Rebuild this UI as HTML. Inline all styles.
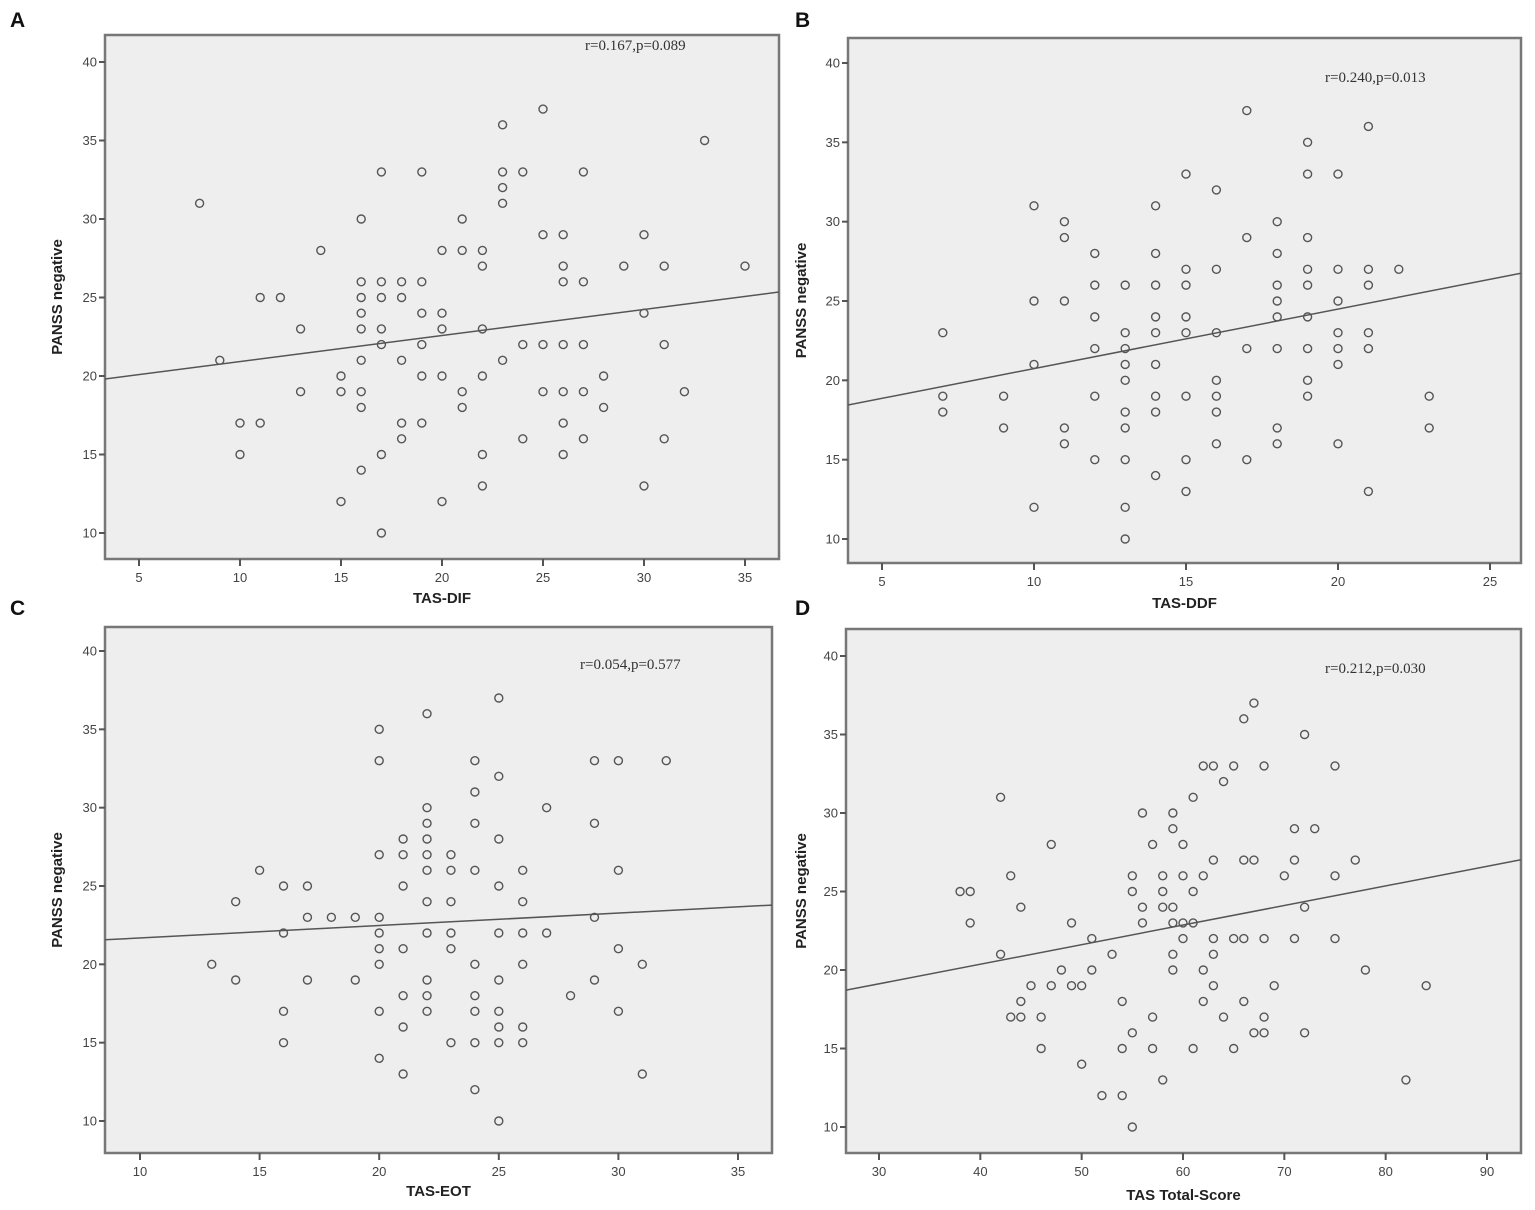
<!DOCTYPE html>
<html><head><meta charset="utf-8"><style>
body{margin:0;background:#fff;}
svg{display:block;font-family:"Liberation Sans",sans-serif;}
</style></head><body>
<svg id="chart" width="1535" height="1210" viewBox="0 0 1535 1210" xmlns="http://www.w3.org/2000/svg"></svg>
<script>
// ---- data ----
const aX=[8,9,10,10,11,11,12,13,13,14,15,15,15,16,16,16,16,16,16,16,16,16,17,17,17,17,17,17,17,18,18,18,18,18,19,19,19,19,19,19,20,20,20,20,20,21,21,21,21,22,22,22,22,22,22,23,23,23,23,23,24,24,24,25,25,25,25,26,26,26,26,26,26,26,27,27,27,27,27,28,28,29,30,30,30,31,31,31,32,33,35];
const aY=[31,21,17,15,25,17,25,23,19,28,20,19,12,30,26,25,24,23,21,19,18,14,33,26,25,23,22,15,10,26,25,21,17,16,33,26,24,22,20,17,28,24,23,20,12,30,28,19,18,28,27,23,20,15,13,36,33,32,31,21,33,22,16,37,29,22,19,29,27,26,22,19,17,15,33,26,22,19,16,20,18,27,29,24,13,27,22,16,19,35,27];
const bX=[7,7,7,9,9,10,10,10,10,11,11,11,11,11,12,12,12,12,12,12,13,13,13,13,13,13,13,13,13,13,14,14,14,14,14,14,14,14,14,15,15,15,15,15,15,15,15,16,16,16,16,16,16,16,17,17,17,17,18,18,18,18,18,18,18,18,19,19,19,19,19,19,19,19,19,20,20,20,20,20,20,20,21,21,21,21,21,21,22,23,23];
const bY=[23,19,18,19,17,31,25,21,12,30,29,25,17,16,28,26,24,22,19,15,26,23,22,21,20,18,17,15,12,10,31,28,26,24,23,21,19,18,14,33,27,26,24,23,19,15,13,32,27,23,20,19,18,16,37,29,22,15,30,28,26,25,24,22,17,16,35,33,29,27,26,24,22,20,19,33,27,25,23,22,21,16,36,27,26,23,22,13,27,19,17];
const cX=[13,14,14,15,16,16,16,16,17,17,17,18,19,19,20,20,20,20,20,20,20,20,20,21,21,21,21,21,21,21,22,22,22,22,22,22,22,22,22,22,22,23,23,23,23,23,23,24,24,24,24,24,24,24,24,24,25,25,25,25,25,25,25,25,25,25,26,26,26,26,26,26,27,27,28,29,29,29,29,30,30,30,30,31,31,32];
const cY=[20,24,19,26,25,22,17,15,25,23,19,23,23,19,35,33,27,23,22,21,20,17,14,28,27,25,21,18,16,13,36,30,29,28,27,26,24,22,19,18,17,27,26,24,22,21,15,33,31,29,26,20,18,17,15,12,37,32,28,25,22,19,17,16,15,10,26,24,22,20,16,15,30,22,18,33,29,23,19,33,26,21,17,20,13,33];
const dX=[38,39,39,42,42,43,43,44,44,44,45,46,46,47,47,48,49,49,50,50,51,51,52,53,54,54,54,55,55,55,55,56,56,56,57,57,57,58,58,58,58,59,59,59,59,59,59,60,60,60,60,61,61,61,61,62,62,62,62,63,63,63,63,63,64,64,65,65,65,66,66,66,66,67,67,67,68,68,68,68,69,70,71,71,71,72,72,72,73,75,75,75,77,78,82,84];
const dY=[25,25,23,31,21,26,17,24,18,17,19,17,15,28,19,20,23,19,19,14,22,20,12,21,18,15,12,26,25,16,10,30,24,23,28,17,15,26,25,24,13,30,29,24,23,21,20,28,26,23,22,31,25,23,15,33,26,20,18,33,27,22,21,19,32,17,33,22,15,36,27,22,18,37,27,16,33,22,17,16,19,26,29,27,22,35,24,16,29,33,26,22,27,20,13,19];
const lineIntercept=[19.26,16.99,20.89,15.38];
const lineSlope=[0.166,0.375,0.0794,0.1247];
const statLabels=["r=0.167,p=0.089","r=0.240,p=0.013","r=0.054,p=0.577","r=0.212,p=0.030"];
const xTitles=["TAS-DIF","TAS-DDF","TAS-EOT","TAS Total-Score"];
const xTicksA=[5,10,15,20,25,30,35];
const xTicksB=[5,10,15,20,25];
const xTicksC=[10,15,20,25,30,35];
const xTicksD=[30,40,50,60,70,80,90];
const yTicks=[10,15,20,25,30,35,40];
const panelLetters=["A","B","C","D"];

// ---- layout ----
const panels=[
 {x0:105,y0:35,x1:779,y1:559,xa:[5,139],xb:[35,745],ya:[40,62],yb:[10,533],xs:aX,ys:aY,xt:xTicksA,stat:[585,50],yt:62,xt2:603,letter:[10,27]},
 {x0:848,y0:38,x1:1521,y1:563,xa:[5,882],xb:[25,1490],ya:[40,63],yb:[10,539],xs:bX,ys:bY,xt:xTicksB,stat:[1325,82],yt:806,xt2:608,letter:[795,27]},
 {x0:105,y0:627,x1:772,y1:1153,xa:[10,140],xb:[35,738],ya:[40,651],yb:[10,1121],xs:cX,ys:cY,xt:xTicksC,stat:[580,669],yt:62,xt2:1196,letter:[10,615]},
 {x0:846,y0:629,x1:1521,y1:1153,xa:[30,879],xb:[90,1487],ya:[40,656],yb:[10,1127],xs:dX,ys:dY,xt:xTicksD,stat:[1325,673],yt:806,xt2:1200,letter:[795,615]}
];
const NS="http://www.w3.org/2000/svg";
const svg=document.getElementById('chart');
function mk(tag,attrs,parent){const e=document.createElementNS(NS,tag);for(const k in attrs)e.setAttribute(k,attrs[k]);(parent||svg).appendChild(e);return e;}

panels.forEach((p,i)=>{
 const sx=v=>p.xa[1]+(v-p.xa[0])*(p.xb[1]-p.xa[1])/(p.xb[0]-p.xa[0]);
 const sy=v=>p.ya[1]+(v-p.ya[0])*(p.yb[1]-p.ya[1])/(p.yb[0]-p.ya[0]);
 const g=mk('g',{});
 
 
 const lt=mk('text',{x:p.letter[0],y:p.letter[1],'font-size':21,'font-weight':'bold',fill:'#111'},g);
 lt.textContent=panelLetters[i];
 
 
 const fr=mk('rect',{x:p.x0,y:p.y0,width:p.x1-p.x0,height:p.y1-p.y0,fill:'#eeeeee',stroke:'#777',"stroke-width":2.5},g);
 
 
 const cid='clip'+i;
 const cp=mk('clipPath',{id:cid},g);mk('rect',{x:p.x0,y:p.y0,width:p.x1-p.x0,height:p.y1-p.y0},cp);
 // y ticks
 yTicks.forEach(t=>{
  const y=sy(t);
  mk('line',{x1:p.x0-6,x2:p.x0,y1:y,y2:y,stroke:'#555','stroke-width':2},g);
  const tx=mk('text',{x:p.x0-8,y:y+4.5,'font-size':13,'text-anchor':'end',fill:'#444'},g);
  tx.textContent=t;
  
  
 });
 p.xt.forEach(t=>{
  const x=sx(t);
  mk('line',{x1:x,x2:x,y1:p.y1,y2:p.y1+7,stroke:'#555','stroke-width':2},g);
  const tx=mk('text',{x:x,y:p.y1+23,'font-size':13,'text-anchor':'middle',fill:'#444'},g);
  tx.textContent=t;
  
  
 });
 // axis titles
 const yc=(p.y0+p.y1)/2;
 const yt=mk('text',{x:p.yt,y:yc,'font-size':15,'font-weight':'bold','text-anchor':'middle',fill:'#222',transform:`rotate(-90 ${p.yt} ${yc})`},g);
 yt.textContent='PANSS negative';
 
 
 const xtt=mk('text',{x:(p.x0+p.x1)/2,y:p.xt2,'font-size':15,'font-weight':'bold','text-anchor':'middle',fill:'#222'},g);
 xtt.textContent=xTitles[i];
 
 
 // stat
 const st=mk('text',{x:p.stat[0],y:p.stat[1],'font-size':15,fill:'#333','font-family':'"Liberation Serif",serif'},g);
 st.textContent=statLabels[i];
 
 
 // fit line
 const vx0=p.xa[0]+(p.x0-p.xa[1])*(p.xb[0]-p.xa[0])/(p.xb[1]-p.xa[1]);
 const vx1=p.xa[0]+(p.x1-p.xa[1])*(p.xb[0]-p.xa[0])/(p.xb[1]-p.xa[1]);
 const fl=mk('line',{x1:sx(vx0),y1:sy(lineIntercept[i]+lineSlope[i]*vx0),x2:sx(vx1),y2:sy(lineIntercept[i]+lineSlope[i]*vx1),stroke:'#555','stroke-width':1.5,'clip-path':`url(#${cid})`},g);
 
 
 // points
 p.xs.forEach((v,j)=>{
  const c=mk('circle',{cx:sx(v),cy:sy(p.ys[j]),r:4,fill:'none',stroke:'#555','stroke-width':1.4},g);
  
  
 });
});
</script>
</body></html>
